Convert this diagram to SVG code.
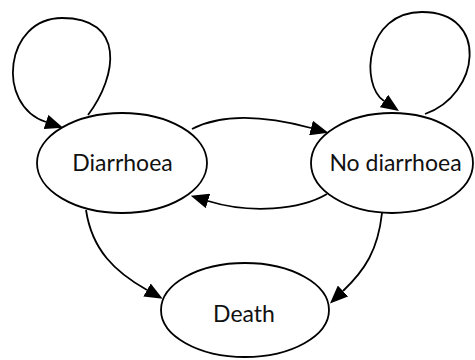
<svg xmlns="http://www.w3.org/2000/svg" width="475" height="360" viewBox="0 0 475 360">
<style>
.node ellipse{fill:#fff;stroke:#000;stroke-width:1.8}
.node text{font-family:Lato,"Liberation Sans",sans-serif;font-size:23px;fill:#111;text-anchor:middle}
.edge path{fill:none;stroke:#000;stroke-width:1.8}
</style>
<defs>
<marker id="ah" markerUnits="userSpaceOnUse" markerWidth="18" markerHeight="15" refX="0" refY="7.5" orient="auto">
<path d="M0,0 L18,7.5 L0,15 z" fill="#000"/>
</marker>
</defs>
<g id="edges">
<g class="edge"><path d="M88,115 C118,75 125,18 62,18 C5,18 -5,105 46,122" marker-end="url(#ah)"/></g>
<g class="edge"><path d="M425,114 C480,95 490,12 422,12 C365,12 360,85 384,101" marker-end="url(#ah)"/></g>
<g class="edge"><path d="M192,129 C225,112 270,117 311,128" marker-end="url(#ah)"/></g>
<g class="edge"><path d="M327,194 C300,210 250,214 208,201" marker-end="url(#ah)"/></g>
<g class="edge"><path d="M86,210 C92,250 115,272 147,290" marker-end="url(#ah)"/></g>
<g class="edge"><path d="M382,213 C378,250 365,270 343,291" marker-end="url(#ah)"/></g>
</g>
<g id="diarrhoea" class="node"><ellipse cx="122" cy="163" rx="85" ry="50"/><text x="122.5" y="171">Diarrhoea</text></g>
<g id="no-diarrhoea" class="node"><ellipse cx="392" cy="163" rx="81" ry="50"/><text x="395.5" y="171">No diarrhoea</text></g>
<g id="death" class="node"><ellipse cx="245" cy="310" rx="84" ry="47"/><text x="244" y="322">Death</text></g>
</svg>
